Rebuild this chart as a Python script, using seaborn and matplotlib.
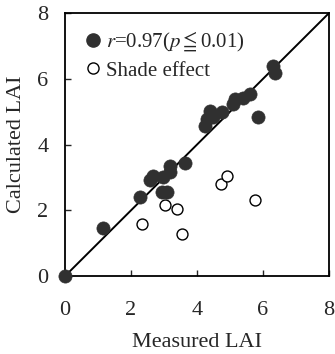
import matplotlib
matplotlib.use("Agg")
import matplotlib.pyplot as plt
import seaborn as sns
import pandas as pd
from matplotlib.lines import Line2D

# Filled points (r=0.97)
filled_x = [0.0, 1.14, 2.27, 2.58, 2.68, 2.93, 3.08, 2.98, 3.18, 3.18, 3.64,
            4.24, 4.29, 4.5, 4.39, 4.75, 5.1, 5.15, 5.40, 5.61, 6.31, 6.36, 5.86]
filled_y = [0.0, 1.47, 2.40, 2.91, 3.06, 2.56, 2.56, 3.01, 3.36, 3.16, 3.44,
            4.58, 4.78, 4.83, 5.03, 4.98, 5.23, 5.38, 5.43, 5.54, 6.39, 6.19, 4.83]
# Open points (shade effect)
open_x = [2.32, 3.03, 3.38, 3.54, 4.73, 4.9, 5.76]
open_y = [1.60, 2.15, 2.05, 1.29, 2.81, 3.06, 2.33]

line_x = [0, 8]
line_y = [0, 8]
ticks = [0, 2, 4, 6, 8]

sns.set_style("white")
plt.rcParams['font.family'] = ['Liberation Serif', 'DejaVu Serif']
plt.rcParams['mathtext.fontset'] = 'stix'

fig = plt.figure(figsize=(3.35, 3.54), dpi=100)
ax = fig.add_axes([0.194, 0.220, 0.788, 0.743])

sns.lineplot(x=line_x, y=line_y, ax=ax, color='black', lw=1.4)
df_f = pd.DataFrame({'x': filled_x, 'y': filled_y})
df_o = pd.DataFrame({'x': open_x, 'y': open_y})
sns.scatterplot(data=df_f, x='x', y='y', ax=ax, color='#303030', s=90,
                edgecolor='#303030', linewidth=0.5, zorder=3, clip_on=False)
sns.scatterplot(data=df_o, x='x', y='y', ax=ax, facecolor='white', s=62,
                edgecolor='black', linewidth=1.0, zorder=3)

ax.set_xlim(0, 8)
ax.set_ylim(0, 8)
ax.set_xticks(ticks)
ax.set_yticks(ticks)
ax.tick_params(axis='both', direction='in', length=4, width=1, labelsize=16,
               top=False, right=False, bottom=True, left=True)
ax.tick_params(axis='x', pad=18)
ax.tick_params(axis='y', pad=12)
for sp in ax.spines.values():
    sp.set_linewidth(1.3)
    sp.set_color('black')
ax.set_xlabel('Measured LAI', fontsize=16, labelpad=9)
ax.set_ylabel('Calculated LAI', fontsize=16, labelpad=8)

handles = [
    Line2D([], [], marker='o', linestyle='none', markersize=9.5,
           markerfacecolor='#303030', markeredgecolor='#303030'),
    Line2D([], [], marker='o', linestyle='none', markersize=8,
           markerfacecolor='white', markeredgecolor='black', markeredgewidth=1.0),
]
labels = [r'$\it{r}$=0.97($\it{p}\leqq$0.01)', 'Shade effect']
ax.legend(handles, labels, loc='upper left', frameon=False, fontsize=15,
          handletextpad=0.05, handlelength=1.1, labelspacing=0.35,
          borderaxespad=0.4)

fig.savefig('out.png', dpi=100)
